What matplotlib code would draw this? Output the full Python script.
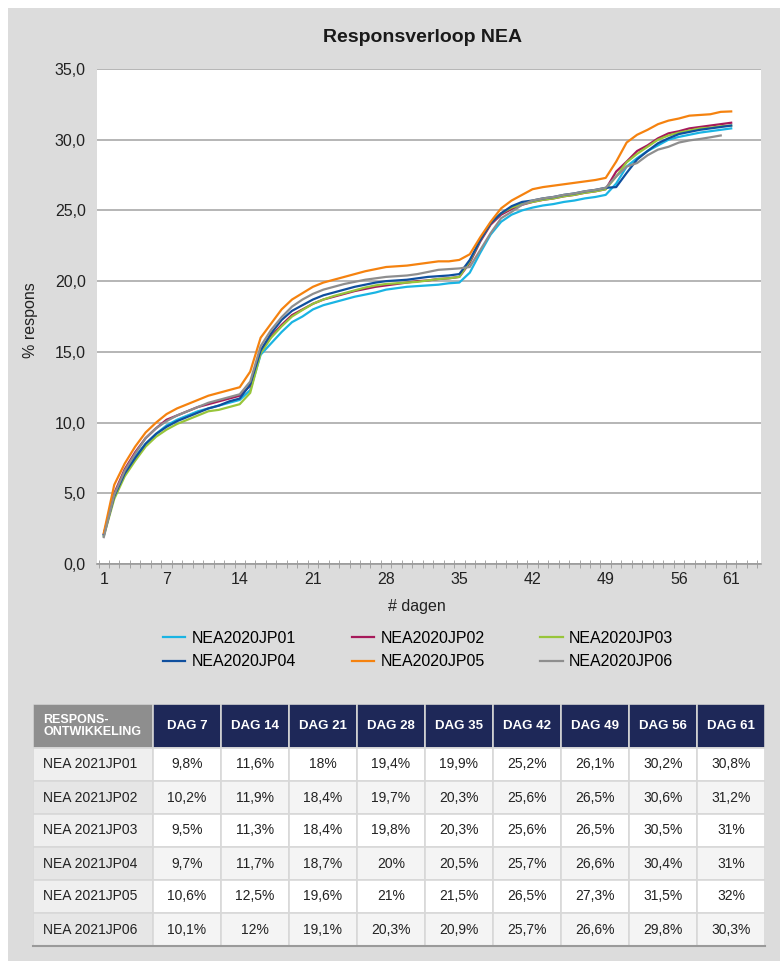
import numpy as np
import matplotlib
matplotlib.use("Agg")
import matplotlib.pyplot as plt
from matplotlib import font_manager
from matplotlib.patches import Rectangle
from matplotlib.ticker import FuncFormatter

# -----------------------------
# data
# -----------------------------
series_names = ["NEA2020JP01", "NEA2020JP02", "NEA2020JP03",
                "NEA2020JP04", "NEA2020JP05", "NEA2020JP06"]
series_colors = ["#1ab4e3", "#a6195a", "#98c53a", "#0f4f9e", "#f5820f", "#8e8e8e"]

jp01 = [2.0, 4.9, 6.5, 7.6, 8.5, 9.2, 9.8, 10.2, 10.5, 10.8, 11.0, 11.2, 11.4, 11.6,
        12.3, 14.8, 15.6, 16.4, 17.1, 17.5, 18.0,
        18.3, 18.5, 18.7, 18.9, 19.05, 19.2, 19.4,
        19.5, 19.6, 19.65, 19.7, 19.75, 19.85, 19.9,
        20.6, 22.0, 23.3, 24.2, 24.7, 25.0, 25.2,
        25.35, 25.45, 25.6, 25.7, 25.85, 25.95, 26.1,
        26.9, 28.1, 28.7, 29.2, 29.6, 30.0, 30.2, 30.35, 30.5, 30.6, 30.7, 30.8]
jp02 = [2.1, 5.0, 6.7, 7.9, 8.9, 9.6, 10.2, 10.5, 10.8, 11.1, 11.3, 11.5, 11.7, 11.9,
        12.6, 15.0, 16.1, 16.9, 17.6, 18.0, 18.4,
        18.7, 18.9, 19.1, 19.3, 19.45, 19.6, 19.7,
        19.8, 19.9, 20.0, 20.05, 20.15, 20.2, 20.3,
        21.3, 22.8, 24.0, 24.7, 25.1, 25.4, 25.6,
        25.75, 25.85, 26.0, 26.1, 26.25, 26.35, 26.5,
        27.75, 28.45, 29.2, 29.6, 30.1, 30.45, 30.6, 30.8, 30.9, 31.0, 31.1, 31.2]
jp03 = [2.0, 4.6, 6.2, 7.3, 8.3, 9.0, 9.5, 9.9, 10.2, 10.5, 10.8, 10.9, 11.1, 11.3,
        12.1, 14.9, 16.0, 16.8, 17.5, 17.96, 18.4,
        18.7, 18.95, 19.15, 19.35, 19.55, 19.7, 19.8,
        19.85, 19.9, 19.95, 20.05, 20.15, 20.2, 20.3,
        21.4, 22.9, 24.1, 24.8, 25.2, 25.45, 25.6,
        25.75, 25.85, 26.0, 26.1, 26.25, 26.35, 26.5,
        27.4, 28.4, 29.0, 29.5, 30.0, 30.3, 30.5, 30.65, 30.8, 30.85, 30.95, 31.0]
jp04 = [2.1, 4.8, 6.4, 7.5, 8.5, 9.2, 9.7, 10.1, 10.4, 10.7, 11.0, 11.2, 11.5, 11.7,
        12.7, 15.1, 16.3, 17.25, 17.9, 18.3, 18.7,
        19.0, 19.2, 19.4, 19.6, 19.75, 19.9, 20.0,
        20.05, 20.1, 20.2, 20.3, 20.35, 20.4, 20.5,
        21.5, 22.9, 24.1, 24.8, 25.3, 25.6, 25.7,
        25.85, 25.95, 26.1, 26.2, 26.35, 26.45, 26.6,
        26.65, 27.65, 28.6, 29.2, 29.75, 30.1, 30.4, 30.55, 30.7, 30.8, 30.9, 31.0]
jp05 = [2.2, 5.6, 7.1, 8.3, 9.3, 10.0, 10.6, 11.0, 11.3, 11.6, 11.9, 12.1, 12.3, 12.5,
        13.6, 16.0, 17.0, 18.0, 18.7, 19.15, 19.6,
        19.9, 20.1, 20.3, 20.5, 20.7, 20.85, 21.0,
        21.05, 21.1, 21.2, 21.3, 21.4, 21.4, 21.5,
        21.9, 23.1, 24.2, 25.15, 25.7, 26.1, 26.5,
        26.65, 26.75, 26.85, 26.95, 27.05, 27.15, 27.3,
        28.45, 29.8, 30.35, 30.7, 31.1, 31.35, 31.5, 31.7, 31.75, 31.8, 31.97, 32.0]
jp06 = [1.9, 4.9, 6.6, 7.8, 8.9, 9.6, 10.1, 10.5, 10.8, 11.1, 11.4, 11.6, 11.8, 12.0,
        12.9, 15.4, 16.55, 17.45, 18.2, 18.7, 19.1,
        19.4, 19.6, 19.8, 19.95, 20.1, 20.2, 20.3,
        20.35, 20.4, 20.5, 20.65, 20.8, 20.85, 20.9,
        21.0, 22.2, 23.4, 24.45, 24.9, 25.4, 25.7,
        25.85, 25.95, 26.1, 26.2, 26.35, 26.45, 26.6,
        27.4, 28.1, 28.35, 28.9, 29.3, 29.5, 29.8, 29.95, 30.05, 30.17, 30.3]
series_values = [jp01, jp02, jp03, jp04, jp05, jp06]

x_tick_days = [1, 7, 14, 21, 28, 35, 42, 49, 56, 61]

table_header = ["RESPONS-\nONTWIKKELING", "DAG 7", "DAG 14", "DAG 21", "DAG 28",
                "DAG 35", "DAG 42", "DAG 49", "DAG 56", "DAG 61"]
table_rows = ["NEA 2021JP01", "NEA 2021JP02", "NEA 2021JP03",
              "NEA 2021JP04", "NEA 2021JP05", "NEA 2021JP06"]
table_values = [
    ["9,8%", "11,6%", "18%", "19,4%", "19,9%", "25,2%", "26,1%", "30,2%", "30,8%"],
    ["10,2%", "11,9%", "18,4%", "19,7%", "20,3%", "25,6%", "26,5%", "30,6%", "31,2%"],
    ["9,5%", "11,3%", "18,4%", "19,8%", "20,3%", "25,6%", "26,5%", "30,5%", "31%"],
    ["9,7%", "11,7%", "18,7%", "20%", "20,5%", "25,7%", "26,6%", "30,4%", "31%"],
    ["10,6%", "12,5%", "19,6%", "21%", "21,5%", "26,5%", "27,3%", "31,5%", "32%"],
    ["10,1%", "12%", "19,1%", "20,3%", "20,9%", "25,7%", "26,6%", "29,8%", "30,3%"],
]

# -----------------------------
# fonts
# -----------------------------
installed = {f.name for f in font_manager.fontManager.ttflist}
narrow = "Liberation Sans Narrow" if "Liberation Sans Narrow" in installed else "Liberation Sans"
plt.rcParams["font.family"] = [narrow, "DejaVu Sans"]

W, H = 780, 961
fig = plt.figure(figsize=(W / 100, H / 100), dpi=100, facecolor="white")

# gray panel behind everything
fig.patches.append(Rectangle((8 / W, 0), 1, (H - 8) / H, transform=fig.transFigure,
                             facecolor="#dcdcdc", edgecolor="none", zorder=-10))

fig.text(423 / W, 1 - 37 / H, "Responsverloop NEA", ha="center", va="center",
         fontsize=14, fontweight="bold", color="#1a1a1a")

# -----------------------------
# line chart
# -----------------------------
ax = fig.add_axes([97 / W, 1 - 564 / H, (761 - 97) / W, (564 - 69) / H])
ax.set_facecolor("white")

handles = []
for name, vals, col in zip(series_names, series_values, series_colors):
    days = np.arange(1, len(vals) + 1)
    h, = ax.plot(days, vals, color=col, lw=1.6, label=name, solid_joinstyle="round")
    handles.append(h)

ax.set_ylim(0, 35)
ax.set_xlim(0.35, 63.85)
ax.set_yticks(np.arange(0, 36, 5))
ax.yaxis.set_major_formatter(FuncFormatter(lambda v, p: f"{v:.1f}".replace(".", ",")))
ax.grid(axis="y", color="#a9a9a9", lw=1.2)
ax.set_axisbelow(True)

ax.set_xticks(x_tick_days)
ax.set_xticks(np.arange(0.5, 64, 1), minor=True)
ax.tick_params(axis="x", which="major", length=0, labelsize=11.5, pad=6, colors="#222222")
ax.tick_params(axis="x", which="minor", length=6, direction="inout", color="#9a9a9a")
ax.tick_params(axis="y", length=0, labelsize=11.5, pad=8, colors="#222222")

for s in ["left", "right", "top"]:
    ax.spines[s].set_visible(False)
ax.spines["bottom"].set_color("#9a9a9a")
ax.spines["bottom"].set_linewidth(1.2)

fig.text(417 / W, 1 - 606 / H, "# dagen", ha="center", va="center",
         fontsize=11.5, color="#222222")
fig.text(30 / W, 1 - 320 / H, "% respons", ha="center", va="center",
         rotation=90, fontsize=11.5, color="#222222")

# legend reads row by row in the reference, matplotlib fills column by column
order = [0, 3, 1, 4, 2, 5]
fig.legend([handles[k] for k in order], [series_names[k] for k in order],
           loc="center", bbox_to_anchor=(418 / W, 1 - 650 / H), ncol=3,
           frameon=False, fontsize=11.5, handlelength=1.4, handletextpad=0.4,
           columnspacing=3.5, labelspacing=0.55)

# -----------------------------
# table drawn as cells
# -----------------------------
tx0, ty0, tx1, ty1 = 33, 704, 765, 946
tab = fig.add_axes([tx0 / W, 1 - ty1 / H, (tx1 - tx0) / W, (ty1 - ty0) / H])
tab.set_xlim(tx0, tx1)
tab.set_ylim(ty1, ty0)
tab.axis("off")

col_w = [120] + [68] * 9
col_x = np.concatenate([[tx0], tx0 + np.cumsum(col_w)])
head_h = 44
row_h = (ty1 - ty0 - head_h) / len(table_rows)
tfont = ["Liberation Sans", "DejaVu Sans"]

for j, label in enumerate(table_header):
    fc = "#8e8e8e" if j == 0 else "#1e2858"
    tab.add_patch(Rectangle((col_x[j], ty0), col_w[j], head_h, facecolor=fc,
                            edgecolor="#d4d4d4", lw=1.2))
    if j == 0:
        tab.text(col_x[j] + 10, ty0 + head_h / 2, label, ha="left", va="center",
                 color="white", fontsize=9, fontweight="bold", linespacing=0.95,
                 family=tfont)
    else:
        tab.text(col_x[j] + col_w[j] / 2, ty0 + head_h / 2, label, ha="center",
                 va="center", color="white", fontsize=9.5, fontweight="bold",
                 family=tfont)

for i, rname in enumerate(table_rows):
    y = ty0 + head_h + i * row_h
    cells = [rname] + table_values[i]
    for j, txt in enumerate(cells):
        if j == 0:
            fc = "#efefef" if i % 2 == 0 else "#e6e6e6"
        else:
            fc = "white" if i % 2 == 0 else "#f4f4f4"
        tab.add_patch(Rectangle((col_x[j], y), col_w[j], row_h, facecolor=fc,
                                edgecolor="#d8d8d8", lw=1.2))
        if j == 0:
            tab.text(col_x[j] + 10, y + row_h / 2, txt, ha="left", va="center",
                     fontsize=10, color="#222222", family=tfont)
        else:
            tab.text(col_x[j] + col_w[j] / 2, y + row_h / 2, txt, ha="center",
                     va="center", fontsize=10, color="#222222", family=tfont)

tab.plot([tx0, tx1], [ty1, ty1], color="#9a9a9a", lw=1.5, clip_on=False)

fig.savefig("out.png", dpi=100, facecolor="white")
